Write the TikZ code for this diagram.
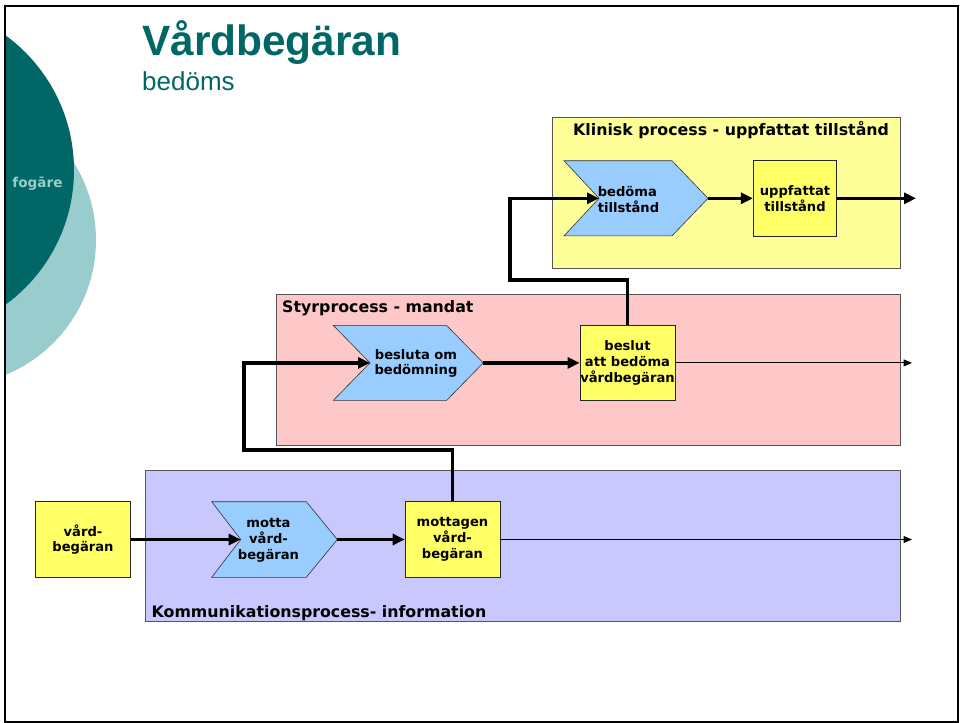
\documentclass[tikz,border=0pt]{standalone}
\usepackage{fontspec}
\setmainfont{DejaVu Sans}
\newfontfamily\headfont{Liberation Sans}
\usetikzlibrary{arrows.meta}

\definecolor{tealdark}{HTML}{006666}
\definecolor{teallight}{HTML}{99CCCC}
\definecolor{klinfill}{HTML}{FFFF99}
\definecolor{styrfill}{HTML}{FFC8C8}
\definecolor{kommfill}{HTML}{C8C8FF}
\definecolor{chevfill}{HTML}{99CCFF}
\definecolor{itemfill}{HTML}{FFFF66}
\definecolor{edgegray}{HTML}{555555}

% chevron: name, left x, tip x, centre y, point depth, notch depth, half height
\newcommand\chevronnode[7]{%
  \filldraw[chevshape]
    (#2,{#4-#7}) -- ({#3-#5},{#4-#7}) -- (#3,#4) -- ({#3-#5},{#4+#7})
    -- (#2,{#4+#7}) -- ({#2+#6},#4) -- cycle;
  \coordinate (#1-in) at ({#2+#6},#4);
  \coordinate (#1-out) at (#3,#4);
}

\tikzset{
  procbox/.style={draw=edgegray, line width=0.8pt, inner sep=0pt},
  proclabel/.style={anchor=west, inner sep=0pt, font=\bfseries\fontsize{15.8}{18}\selectfont},
  chevshape/.style={fill=chevfill, draw=black!80, line width=0.6pt},
  itembox/.style={draw=black!85, line width=0.8pt, fill=itemfill, inner sep=0pt,
    align=center, font=\bfseries\fontsize{13.1}{15.7}\selectfont},
  chevtext/.style={inner sep=0pt, font=\bfseries\fontsize{13.1}{15.7}\selectfont},
  flow/.style={line width=3.2pt, -{Triangle[length=12pt,width=11pt]}},
  thinflow/.style={line width=1pt, -{Triangle[length=8.5pt,width=7pt]}},
}

\begin{document}
\begin{tikzpicture}[x=1pt, y=-1pt]
\useasboundingbox (0,0) rectangle (964,723);

% decorative circles at the left edge
\begin{scope}
  \clip (5,6) rectangle (958,722);
  \fill[teallight] (-49.6,240) circle[radius=145.6];
  \fill[tealdark] (-92.6,170) circle[radius=166.6];
\end{scope}
\node[text=teallight, inner sep=0pt, font=\bfseries\fontsize{13.6}{15}\selectfont] (tag) at (37.5,184) {fogāre};

% slide frame
\draw[line width=1.8pt] (5,6) rectangle (958,722);

% heading
\node[anchor=base west, inner sep=0pt, text=tealdark, font=\headfont\bfseries\fontsize{42.4}{46}\selectfont] (title) at (142,55) {Vårdbegäran};
\node[anchor=base west, inner sep=0pt, text=tealdark, font=\headfont\fontsize{26}{30}\selectfont] (subtitle) at (142,90) {bedöms};

% process bands
\node[procbox, fill=klinfill, minimum width=348pt, minimum height=151pt] (klin) at (726,192.5) {};
\node[procbox, fill=styrfill, minimum width=624pt, minimum height=151pt] (styr) at (588,369.5) {};
\node[procbox, fill=kommfill, minimum width=755pt, minimum height=151pt] (komm) at (522.5,545.5) {};
\node[proclabel] (klinlabel) at (573,130.5) {Klinisk process - uppfattat tillstånd};
\node[proclabel] (styrlabel) at (282,308) {Styrprocess - mandat};
\node[proclabel] (kommlabel) at (151.5,613) {Kommunikationsprocess- information};

% activities
\chevronnode{bedoma}{564}{708}{198.3}{36}{35}{37.6}
\chevronnode{besluta}{333.3}{483.3}{362.9}{36.7}{36.7}{37.5}
\chevronnode{motta}{211.7}{337.3}{539.5}{31}{29}{37.8}
\node[chevtext, align=left] (bedomatext) at (628.5,199.5) {bedöma\\tillstånd};
\node[chevtext, align=center] (beslutatext) at (416,363.4) {besluta om\\bedömning};
\node[chevtext, align=center] (mottatext) at (268.5,540.3) {motta\\vård-\\begäran};

% states
\node[itembox, minimum width=83.4pt, minimum height=75.3pt] (uppf) at (795,198.3) {uppfattat\\tillstånd};
\node[itembox, minimum width=95pt, minimum height=75.7pt] (beslut) at (627.5,362.9) {beslut\\att bedöma\\vårdbegäran};
\node[itembox, minimum width=94.6pt, minimum height=75.6pt] (vb) at (83,539.5) {vård-\\begäran};
\node[itembox, minimum width=95pt, minimum height=75.6pt] (mottagen) at (452.5,539.5) {mottagen\\vård-\\begäran};

% routing points and free ends
\coordinate (bendlow) at (244,450);
\coordinate (bendhigh) at (510,280);
\coordinate (endklin) at (916,198.3);
\coordinate (endstyr) at (912,362.9);
\coordinate (endkomm) at (912,539.5);

% flows
\draw[flow] (vb.east) -- (motta-in);
\draw[flow] (motta-out) -- (mottagen.west);
\draw[flow] (mottagen.north) |- (bendlow) |- (besluta-in);
\draw[flow] (besluta-out) -- (beslut.west);
\draw[flow] (beslut.north) |- (bendhigh) |- (bedoma-in);
\draw[flow] (bedoma-out) -- (uppf.west);
\draw[flow] (uppf.east) -- (endklin);
\draw[thinflow] (beslut.east) -- (endstyr);
\draw[thinflow] (mottagen.east) -- (endkomm);
\end{tikzpicture}
\end{document}
